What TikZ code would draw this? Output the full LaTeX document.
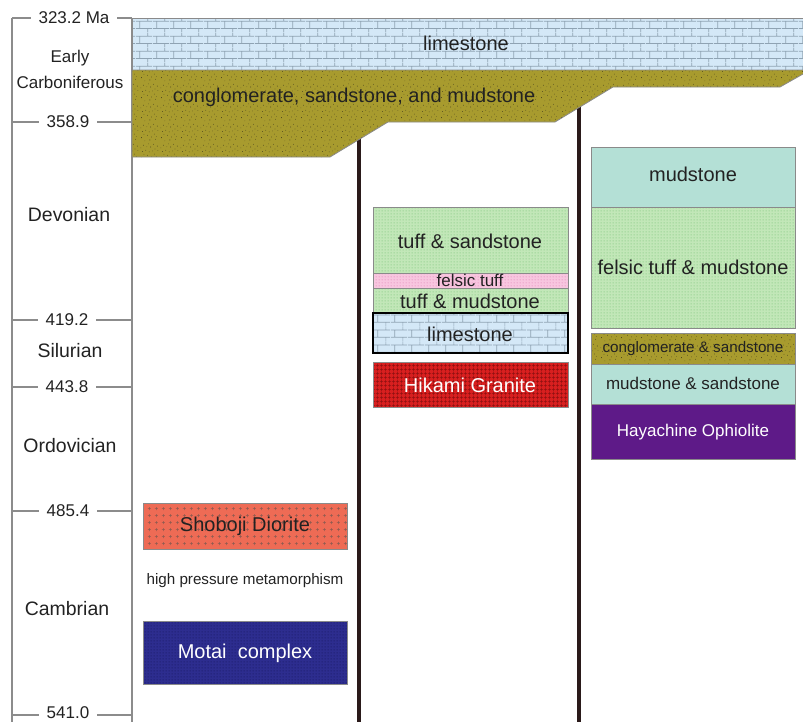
\documentclass[tikz,border=0pt]{standalone}
\usepackage{fontspec}
\setmainfont{Liberation Sans}
\usetikzlibrary{patterns.meta}

\definecolor{limeblue}{HTML}{D4E8F7}
\definecolor{brickgrey}{HTML}{8FA3B3}
\definecolor{conglolive}{HTML}{A89B2E}
\definecolor{speckdark}{HTML}{3F3A1E}
\definecolor{tuffgreen}{HTML}{C2E7B8}
\definecolor{tuffdots}{HTML}{84C884}
\definecolor{tuffpink}{HTML}{F8C6DF}
\definecolor{pinkdots}{HTML}{E690BF}
\definecolor{mudteal}{HTML}{B4E0D6}
\definecolor{hikamired}{HTML}{D81F1F}
\definecolor{hikamigrid}{HTML}{8C1010}
\definecolor{shobojired}{HTML}{EE6B55}
\definecolor{shobojiplus}{HTML}{8A5A50}
\definecolor{motaiblue}{HTML}{2D2D8F}
\definecolor{motaidots}{HTML}{1B1B66}
\definecolor{hayapurple}{HTML}{5E1A88}
\definecolor{edgegrey}{HTML}{8A8A8A}
\definecolor{axisgrey}{HTML}{8C8C8C}
\definecolor{txtdark}{HTML}{222222}
\definecolor{columnline}{HTML}{2A1A1A}

% rock textures
\tikzdeclarepattern{
  name=limebricks, type=uncolored,
  bounding box={(0pt,0pt) and (12.75pt,11pt)},
  tile size={(12.75pt,11pt)},
  code={
    \draw[line width=0.55pt] (0pt,2.75pt) -- (12.75pt,2.75pt) (0pt,8.25pt) -- (12.75pt,8.25pt)
      (3pt,2.75pt) -- (3pt,8.25pt) (9.375pt,8.25pt) -- (9.375pt,11pt) (9.375pt,0pt) -- (9.375pt,2.75pt);
  }
}
\tikzdeclarepattern{
  name=speckle, type=uncolored,
  bounding box={(0pt,0pt) and (15pt,15pt)},
  tile size={(15pt,15pt)},
  code={
    \fill (1.2pt,3.4pt) circle (0.35pt); \fill (4.5pt,9.1pt) circle (0.3pt);
    \fill (7.8pt,1.6pt) circle (0.4pt); \fill (11.3pt,6.2pt) circle (0.3pt);
    \fill (13.6pt,12.4pt) circle (0.35pt); \fill (2.7pt,13.1pt) circle (0.3pt);
    \fill (8.4pt,11.7pt) circle (0.35pt); \fill (5.9pt,5.3pt) circle (0.3pt);
    \fill (12.2pt,2.1pt) circle (0.3pt); \fill (9.9pt,8.6pt) circle (0.25pt);
    \fill (1.9pt,8.2pt) circle (0.3pt); \fill (6.6pt,14.1pt) circle (0.25pt);
    \fill (14.1pt,9.0pt) circle (0.25pt); \fill (3.8pt,0.9pt) circle (0.25pt);
    \fill (10.6pt,13.8pt) circle (0.3pt); \fill (3.1pt,6.0pt) circle (0.25pt);
    \fill (7.2pt,7.9pt) circle (0.3pt); \fill (13.0pt,4.4pt) circle (0.25pt);
    \fill (5.4pt,11.9pt) circle (0.25pt); \fill (9.1pt,3.9pt) circle (0.3pt);
    \fill (0.7pt,11.0pt) circle (0.25pt); \fill (11.8pt,10.2pt) circle (0.3pt);
  }
}
\tikzdeclarepattern{
  name=finedots, type=uncolored,
  bounding box={(0pt,0pt) and (2.25pt,2.25pt)},
  tile size={(2.25pt,2.25pt)},
  code={\fill (1.125pt,1.125pt) circle (0.55pt);}
}
\tikzdeclarepattern{
  name=finegrid, type=uncolored,
  bounding box={(0pt,0pt) and (3pt,3pt)},
  tile size={(3pt,3pt)},
  code={\draw[line width=0.5pt] (0pt,1.5pt) -- (3pt,1.5pt) (1.5pt,0pt) -- (1.5pt,3pt);}
}
\tikzdeclarepattern{
  name=plusmarks, type=uncolored,
  bounding box={(0pt,0pt) and (5.5pt,5.5pt)},
  tile size={(5.5pt,5.5pt)},
  code={\draw[line width=0.45pt] (1.5pt,2.75pt) -- (4pt,2.75pt) (2.75pt,1.5pt) -- (2.75pt,4pt);}
}

\tikzset{
  layer/.style={draw=edgegrey, line width=0.6pt},
  lime/.style={layer, preaction={fill=limeblue}, pattern=limebricks, pattern color=brickgrey},
  congl/.style={layer, preaction={fill=conglolive}, pattern=speckle, pattern color=speckdark},
  tuff/.style={layer, preaction={fill=tuffgreen}, pattern=finedots, pattern color=tuffdots},
  pinktuff/.style={layer, preaction={fill=tuffpink}, pattern=finedots, pattern color=pinkdots},
  mud/.style={layer, fill=mudteal},
  granite/.style={layer, preaction={fill=hikamired}, pattern=finegrid, pattern color=hikamigrid},
  diorite/.style={layer, preaction={fill=shobojired}, pattern=plusmarks, pattern color=shobojiplus},
  motai/.style={layer, preaction={fill=motaiblue}, pattern=finedots, pattern color=motaidots},
  ophiolite/.style={layer, fill=hayapurple},
  bigtxt/.style={font=\fontsize{15}{18}\selectfont, text=txtdark, inner sep=0pt},
  midtxt/.style={font=\fontsize{12.75}{15}\selectfont, text=txtdark, inner sep=0pt},
  smalltxt/.style={font=\fontsize{11.4}{14}\selectfont, text=txtdark, inner sep=0pt},
  periodtxt/.style={font=\fontsize{14.6}{18}\selectfont, text=txtdark, inner sep=0pt},
  agetxt/.style={font=\fontsize{12.75}{15}\selectfont, text=txtdark, fill=white, inner xsep=6pt, inner ysep=1pt},
}

\begin{document}
\begin{tikzpicture}[x=0.75pt, y=-0.75pt]
  \useasboundingbox (0,0) rectangle (803,722);
  \clip (0,0) rectangle (803,722);

  % time axis
  \draw[axisgrey, line width=1.1pt] (12,18) -- (12,722);
  \draw[axisgrey, line width=1.1pt] (132,18) -- (132,722);
  \foreach \y in {18,122,320,387,511,715}
    \draw[axisgrey, line width=1.1pt] (12,\y) -- (132,\y);
  \node[agetxt] (age323) at (74,18) {323.2 Ma};
  \node[agetxt] (age358) at (68,122) {358.9};
  \node[agetxt] (age419) at (67,320) {419.2};
  \node[agetxt] (age443) at (67,387) {443.8};
  \node[agetxt] (age485) at (68,511) {485.4};
  \node[agetxt] (age541) at (68,713) {541.0};

  % periods
  \node[periodtxt, font=\fontsize{12.75}{15}\selectfont] (early) at (70,58) {Early};
  \node[periodtxt, font=\fontsize{12.75}{15}\selectfont] (carbon) at (70,82) {Carboniferous};
  \node[periodtxt] (devonian) at (69,215) {Devonian};
  \node[periodtxt] (silurian) at (70,351) {Silurian};
  \node[periodtxt] (ordovician) at (70,446) {Ordovician};
  \node[periodtxt] (cambrian) at (67,609) {Cambrian};

  % column boundaries
  \draw[columnline, line width=3pt] (359,138) -- (359,722);
  \draw[columnline, line width=3pt] (579,106) -- (579,722);

  % cover
  \path[lime] (132,18) rectangle (810,70);
  \path[congl] (132,70) -- (810,70) -- (810,70) -- (803,74) -- (780,87) -- (613,87)
    -- (555,122) -- (388,122) -- (330,157) -- (132,157) -- cycle;
  \node[bigtxt] (limetop) at (466,43) {limestone};
  \node[bigtxt] (conglotop) at (354,97) {conglomerate, sandstone, and mudstone};

  % left column
  \path[diorite] (143,503) rectangle (347,549);
  \node[bigtxt] (shoboji) at (245,526) {Shoboji Diorite};
  \node[smalltxt] (hpmeta) at (245,581) {high pressure metamorphism};
  \path[motai] (143,621) rectangle (347,684);
  \node[bigtxt, text=white] (motaicx) at (245,653) {Motai\ \ complex};

  % middle column
  \path[tuff] (373,207) rectangle (568,273);
  \node[bigtxt] (tuffsand) at (470,241) {tuff \& sandstone};
  \path[pinktuff] (373,273) rectangle (568,288);
  \node[midtxt] (felsic) at (470,280.5) {felsic tuff};
  \path[tuff] (373,288) rectangle (568,313);
  \node[bigtxt] (tuffmud) at (470,301) {tuff \& mudstone};
  \path[lime, draw=black, line width=1pt] (373,313) rectangle (568,353);
  \node[bigtxt] (limemid) at (470,334) {limestone};
  \path[granite] (373,362) rectangle (568,407);
  \node[bigtxt, text=white] (hikami) at (470,385) {Hikami Granite};

  % right column
  \path[mud] (591,147) rectangle (795,207);
  \node[bigtxt] (mudtop) at (693,174) {mudstone};
  \path[tuff] (591,207) rectangle (795,328);
  \node[bigtxt] (felsicmud) at (693,267) {felsic tuff \& mudstone};
  \path[congl] (591,333) rectangle (795,364);
  \node[smalltxt] (conglosand) at (693,349) {conglomerate \& sandstone};
  \path[mud] (591,364) rectangle (795,404);
  \node[midtxt] (mudsand) at (693,383) {mudstone \& sandstone};
  \path[ophiolite] (591,404) rectangle (795,459);
  \node[midtxt, text=white] (hayachine) at (693,432) {Hayachine Ophiolite};
\end{tikzpicture}
\end{document}
